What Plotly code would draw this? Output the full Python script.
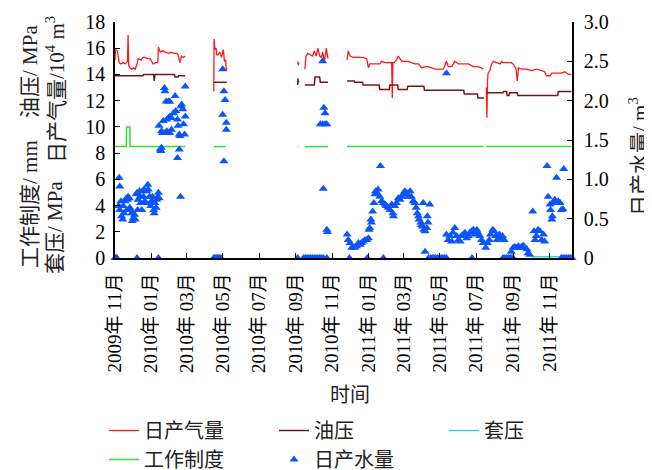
import plotly.graph_objects as go
import pandas as pd

start = pd.Timestamp("2009-11-01")

# ---- data (day offsets from 2009-11-01; None = gap) ----
gas_days = [0, 1, 4, 7, 10, 14, 17, 20, 21, 22, 23, 25, 28, 31, 34, 37, 39, 44, 47, 50, 55, 59, 62, 64, 68, 72, 73, 76, 80, 85, 90, 95, 100, 104, 106, 109, 112, 115, 118,
            None,
            166, 166.5, 168, 170, 171, 173, 176, 179, 182, 184, 186, 187, 188,
            None,
            307, 308, 309,
            None,
            319, 320, 321, 324, 327, 330, 332, 335, 338, 341, 344, 347, 349, 352, 355, 358,
            None,
            390, 392, 395, 400, 406, 412, 417, 423, 426, 428, 434, 440, 445, 448, 454, 459, 465, 466, 467, 469, 473, 476, 482, 487, 493, 498, 504, 510, 515, 521, 526, 532, 538, 546, 552, 557, 560, 566, 571, 577, 585, 594, 602, 610, 616, 619,
            None,
            624, 625, 626, 627, 630, 633, 636, 641, 647, 650, 652, 658, 666, 669, 674, 676, 678, 683, 692, 700, 708, 717, 722, 725, 731, 734, 742, 750, 756, 762, 767]
gas_vals = [15.1, 15.9, 15.8, 14.9, 14.8, 14.9, 14.8, 15.0, 15.0, 17.0, 14.7, 14.5, 14.4, 14.5, 14.4, 14.8, 15.2, 15.1, 15.3, 15.3, 15.2, 15.2, 14.9, 14.8, 14.9, 14.9, 16.1, 15.7, 15.8, 15.7, 15.6, 15.7, 15.6, 15.6, 15.5, 14.9, 15.4, 15.3, 15.4,
            None,
            12.7, 16.7, 15.9, 16.0, 15.5, 15.5, 15.7, 15.3, 15.9, 15.0, 15.1, 14.3, 14.5,
            None,
            15.0, 14.7, 14.9,
            None,
            14.4, 15.4, 15.4, 15.6, 15.5, 15.4, 15.4, 15.8, 15.4, 16.0, 15.4, 15.3, 15.7, 15.0, 16.0, 15.2,
            None,
            15.1, 15.8, 15.4, 15.3, 15.3, 15.3, 15.3, 15.2, 14.5, 14.8, 14.8, 14.8, 14.8, 15.0, 14.9, 14.9, 14.9, 12.2, 14.9, 14.9, 15.1, 15.4, 15.0, 15.0, 15.0, 14.9, 14.8, 14.8, 14.5, 14.6, 14.6, 14.5, 14.4, 14.4, 14.4, 15.0, 14.6, 14.6, 15.0, 14.8, 14.8, 14.8, 14.6, 14.6, 14.5, 14.4,
            None,
            13.0, 10.7, 13.5, 14.1, 14.3, 14.8, 15.0, 14.9, 14.8, 15.0, 14.9, 14.9, 14.9, 14.8, 14.4, 13.5, 14.5, 14.4, 14.4, 14.3, 14.4, 14.3, 14.2, 13.9, 13.9, 14.1, 14.1, 14.1, 14.2, 14.0, 14.0]

oil_days = [0, 47, 48, 65, 66, 67, 100, 101, 106, 107, 118,
            None,
            166, 188,
            None,
            307, 307.5, 308, 309,
            None,
            319, 335, 336, 344, 345, 358,
            None,
            390, 402, 403, 416, 417, 444, 445, 461, 462, 475, 476, 491, 492, 519, 520, 586, 587, 609, 610, 620,
            None,
            625, 652, 653, 658, 659, 662, 663, 676, 677, 744, 745, 767]
oil_vals = [13.9, 13.9, 14.0, 14.0, 13.5, 14.0, 14.0, 13.8, 13.8, 13.9, 13.9,
            None,
            13.4, 13.4,
            None,
            13.2, 13.7, 13.4, 13.5,
            None,
            13.2, 13.2, 13.8, 13.8, 13.4, 13.4,
            None,
            13.5, 13.5, 13.4, 13.4, 13.2, 13.2, 12.85, 12.85, 13.2, 13.2, 12.85, 12.85, 13.1, 13.1, 12.8, 12.8, 12.5, 12.5, 12.2, 12.2,
            None,
            12.6, 12.6, 12.7, 12.7, 12.4, 12.4, 12.6, 12.6, 12.4, 12.4, 12.7, 12.7]

casing_days = [702, 765]
casing_vals = [0.1, 0.1]

regime_days = [0, 19, 19.5, 25, 25.5, 118, None, 166, 186, None, 307, 308, None, 319, 358, None, 390, 619, None, 624, 767]
regime_vals = [8.5, 8.5, 10.0, 10.0, 8.5, 8.5, None, 8.5, 8.5, None, 8.5, 8.5, None, 8.5, 8.5, None, 8.5, 8.5, None, 8.5, 8.5]

water_days = [
    0, 1, 2, 3, 37, 73, 166, 168, 170, 172, 174, 176, 178, 307, 317, 320, 323, 326, 329, 332, 335, 338, 341, 344, 347, 350, 356,
    394, 424, 451, 527, 530, 533, 536, 539, 542, 545, 548, 551, 554, 557, 600, 652, 655, 658, 661, 664, 667, 669,
    750, 753, 756, 759, 762, 765, 768,
    7, 8, 6, 8, 10, 11, 13, 14, 15, 17, 19, 20, 21, 22, 24, 25, 26, 28, 29, 31, 33, 34, 36, 37, 38, 39, 41, 42, 43, 45, 46, 48,
    49, 50, 52, 53, 55, 56, 58, 59, 60, 62, 63, 65, 66, 67, 69, 70, 72, 73, 74,
    76, 77, 78, 74, 81, 78, 80, 84, 87, 90, 92, 95, 83, 84, 86, 90, 92, 87, 90, 92, 95, 98, 101, 102, 105, 106, 108, 109, 111, 112,
    114, 115, 117, 118, 118, 105, 108, 110,
    181, 183, 185, 181, 187, 187, 183,
    349, 351, 353, 345, 349, 353, 356, 350, 356, 357,
    390, 392, 395, 398, 400, 403, 406, 409, 412, 414, 417, 420, 423, 426, 427, 428, 430, 431, 433, 435, 437, 438, 440, 442, 445,
    446, 448, 451, 454, 456, 459, 462, 465, 467, 468, 470, 473, 476, 479, 482, 484, 487, 490, 493, 496, 498, 501, 504, 506, 508,
    510, 511, 514, 515, 517, 519, 521, 524, 525, 526, 529, 518, 521, 557,
    557, 560, 563, 566, 568, 571, 574, 577, 580, 582, 585, 588, 591, 594, 596, 599, 602, 605, 608, 610, 613, 616, 619,
    623, 626, 629, 631, 635, 637, 640, 642, 646, 648, 651, 654,
    666, 669, 672, 675, 678, 680, 683, 686, 689, 692, 694, 697,
    702, 704, 706, 708, 711, 714, 717, 720, 722, 726, 728, 731, 732, 734, 735, 736, 739, 742, 745, 748, 750, 753, 754]
water_vals = [
    0, 0, 0, 0, 0, 0, 0, 0, 0, 0, 0, 0, 0, 0, 0, 0, 0, 0, 0, 0, 0, 0, 0, 0, 0, 0, 0,
    0, 0, 0, 0, 0, 0, 0, 0, 0, 0, 0, 0, 0, 0, 0, 0, 0, 0, 0, 0, 0, 0,
    0, 0, 0, 0, 0, 0, 0,
    1.02, 0.91, 0.66, 0.61, 0.72, 0.53, 0.49, 0.66, 0.57, 0.72, 0.76, 0.61, 0.74, 0.78, 0.76, 0.64, 0.61, 0.57, 0.47, 0.51, 0.55,
    0.49, 0.81, 0.83, 0.61, 0.74, 0.85, 0.78, 0.70, 0.61, 0.85, 0.78,
    0.87, 0.72, 0.70, 0.85, 0.93, 0.87, 0.78, 0.70, 0.66, 0.72, 0.78, 0.61, 0.57, 0.70, 0.64, 0.74, 0.78, 0.83, 0.76,
    1.38, 1.36, 1.40, 1.68, 1.74, 1.61, 1.59, 1.59, 1.61, 1.59, 1.59, 1.63, 2.16, 2.12, 1.99, 1.99, 1.99, 1.76, 1.78, 1.80, 1.78,
    1.84, 2.06, 1.87, 1.76, 1.68, 1.57, 1.55, 1.93, 1.95,
    1.89, 1.70, 1.57, 1.80, 2.18, 1.27, 1.38, 0.78,
    2.40, 2.12, 2.01, 1.82, 1.72, 1.63, 1.23,
    2.50, 1.91, 1.84, 1.70, 1.70, 1.70, 1.70, 0.88, 0.36, 0.33,
    0.30, 0.23, 0.19, 0.13, 0.14, 0.13, 0.15, 0.19, 0.17, 0.19, 0.21, 0.23, 0.23, 0.25, 0.36, 0.38, 0.49, 0.45, 0.59, 0.70, 0.81,
    0.85, 0.83, 0.87, 0.78,
    1.17, 0.72, 0.70, 0.68, 0.66, 0.64, 0.61, 0.68, 0.57, 0.53, 0.66, 0.70, 0.76, 0.74, 0.78, 0.81, 0.85, 0.83, 0.78, 0.85, 0.78,
    0.72, 0.70, 0.64, 0.57,
    0.53, 0.49, 0.45, 0.42, 0.40, 0.36, 0.34, 0.38, 0.53, 0.45, 0.68, 0.70, 0.08, 2.35,
    0.30, 0.23, 0.28, 0.21, 0.32, 0.38, 0.28, 0.23, 0.21, 0.28, 0.30, 0.32, 0.25, 0.28, 0.32, 0.34, 0.36, 0.30, 0.36, 0.32, 0.28,
    0.23, 0.19,
    0.13, 0.19, 0.23, 0.30, 0.36, 0.34, 0.28, 0.23, 0.30, 0.25, 0.28, 0.23,
    0.08, 0.13, 0.14, 0.13, 0.15, 0.13, 0.14, 0.16, 0.13, 0.11, 0.06, 0.04,
    0.59, 0.34, 0.23, 0.28, 0.36, 0.34, 0.23, 0.30, 0.21, 1.17, 0.78, 0.68, 0.61, 0.49, 0.53, 0.70, 0.74, 1.02, 0.72, 0.70, 0.61,
    0.62, 1.13]

x_tick_months = ["2009-11-01", "2010-01-01", "2010-03-01", "2010-05-01", "2010-07-01", "2010-09-01",
                 "2010-11-01", "2011-01-01", "2011-03-01", "2011-05-01", "2011-07-01", "2011-09-01", "2011-11-01"]
left_ticks = [0, 2, 4, 6, 8, 10, 12, 14, 16, 18]
right_ticks = [0, 0.5, 1.0, 1.5, 2.0, 2.5, 3.0]
right_ticktext = ["0", "0.5", "1.0", "1.5", "2.0", "2.5", "3.0"]


def to_dates(days):
    return [None if d is None else start + pd.Timedelta(days=d) for d in days]


FONT = "Liberation Serif, 'Noto Sans CJK SC', serif"

fig = go.Figure()
fig.add_trace(go.Scatter(x=to_dates(gas_days), y=gas_vals, mode="lines", name="日产气量",
                         line=dict(color="#ff1a1a", width=1.3), connectgaps=False))
fig.add_trace(go.Scatter(x=to_dates(oil_days), y=oil_vals, mode="lines", name="油压",
                         line=dict(color="#7a1414", width=1.5), connectgaps=False))
fig.add_trace(go.Scatter(x=to_dates(casing_days), y=casing_vals, mode="lines", name="套压",
                         line=dict(color="#33d6d6", width=1.5)))
fig.add_trace(go.Scatter(x=to_dates(regime_days), y=regime_vals, mode="lines", name="工作制度",
                         line=dict(color="#33dd33", width=1.5), connectgaps=False))
fig.add_trace(go.Scatter(x=to_dates(water_days), y=water_vals, mode="markers", name="日产水量", yaxis="y2",
                         marker=dict(symbol="triangle-up", size=8, color="#0a55ff"), cliponaxis=False))

# reference-frame pixel geometry of the plot area (the page body adds an 8px offset)
OFF = 8
L, R, T, B = 115, 572, 22, 258
W, H = 652, 470
pw, ph = R - L, B - T


def px(xp):
    return (xp - L) / pw


def py(yp):
    return (B - yp) / ph


fig.update_layout(
    width=W - OFF, height=H - OFF,
    margin=dict(l=L - OFF, r=W - R, t=T - OFF, b=H - B, pad=0, autoexpand=False),
    paper_bgcolor="white", plot_bgcolor="white",
    font=dict(family=FONT, size=19, color="black"),
    showlegend=True,
    legend=dict(orientation="h", x=px(104), y=py(411), xanchor="left", yanchor="top",
                entrywidth=125, entrywidthmode="pixels", font=dict(size=20, color="#222"),
                traceorder="normal", bgcolor="rgba(0,0,0,0)"),
    xaxis=dict(type="date", range=[start, start + pd.Timedelta(days=768)],
               tickvals=x_tick_months, tickformat="%Y年 %m月", tickangle=-90,
               ticks="inside", ticklen=5, tickcolor="black", showline=True, linecolor="black", linewidth=1.5,
               showgrid=False, zeroline=False, tickfont=dict(size=19), ticklabelstandoff=6, automargin=False),
    yaxis=dict(range=[0, 18], tickvals=left_ticks, ticks="inside", ticklen=5, tickcolor="black",
               showline=True, linecolor="black", linewidth=1.5, showgrid=False, zeroline=False,
               tickfont=dict(size=20), ticklabelstandoff=4, automargin=False),
    yaxis2=dict(range=[0, 3], overlaying="y", side="right", tickvals=right_ticks, ticktext=right_ticktext,
                ticks="inside", ticklen=5, tickcolor="black", showline=True, linecolor="black", linewidth=1.5,
                showgrid=False, zeroline=False, tickfont=dict(size=20), ticklabelstandoff=6, automargin=False),
)

ann = [
    ("工作制度/ mm", 30, 204),
    ("油压/ MPa", 30, 72),
    ("套压/ MPa", 55, 228),
    ("日产气量/10<sup>4</sup> m<sup>3</sup>", 55, 90),
    ("日产水量/ m<sup>3</sup>", 638, 157),
]
for text, xp, yp in ann:
    fig.add_annotation(text=text, x=px(xp), y=py(yp), xref="paper", yref="paper", showarrow=False,
                       textangle=-90, xanchor="center", yanchor="middle", font=dict(size=21, color="#222"))
fig.add_annotation(text="时间", x=px(350), y=py(395), xref="paper", yref="paper", showarrow=False,
                   xanchor="center", yanchor="middle", font=dict(size=20, color="#222"))

fig.write_html("out.html")
